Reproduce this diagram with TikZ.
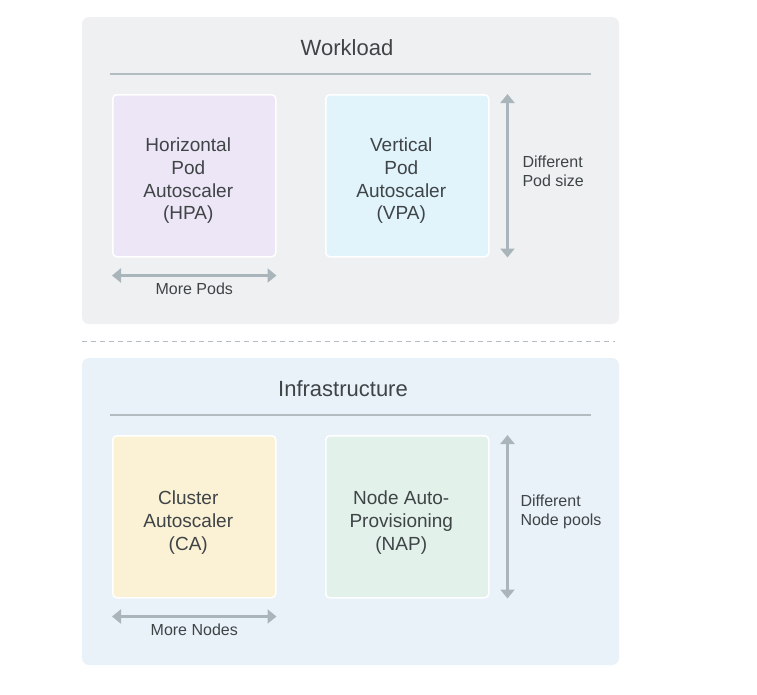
\documentclass[tikz,border=0pt]{standalone}
\usepackage{fontspec}
\setmainfont{Liberation Sans}
\usetikzlibrary{arrows.meta,positioning}

\definecolor{txtgray}{HTML}{3F4447}
\definecolor{rulegray}{HTML}{B3BCC1}
\definecolor{arrowgray}{HTML}{AAB5BB}
\definecolor{workbg}{HTML}{EFF0F2}
\definecolor{infrabg}{HTML}{EAF2F9}
\definecolor{hpafill}{HTML}{EDE6F6}
\definecolor{vpafill}{HTML}{E1F4FC}
\definecolor{cafill}{HTML}{FBF1D4}
\definecolor{napfill}{HTML}{E2F1EA}

\begin{document}
\begin{tikzpicture}[x=1pt,y=-1pt,
    panel/.style={rounded corners=7pt},
    title/.style={font=\fontsize{22}{26}\selectfont, text=txtgray},
    scaler/.style={draw=white, line width=1.5pt, rounded corners=4pt,
        minimum width=163pt, minimum height=162pt, anchor=north west},
    boxtext/.style={align=center, font=\fontsize{19}{22.7}\selectfont, text=txtgray},
    sizearrow/.style={draw=arrowgray, line width=2.5pt,
        {Triangle[width=14pt,length=9pt]}-{Triangle[width=14pt,length=9pt]}},
    note/.style={font=\fontsize{16}{19}\selectfont, text=txtgray, align=left}]
    \useasboundingbox (0,0) rectangle (757,694);

    % Workload panel
    \fill[workbg, panel] (82,17) rectangle (619,324);
    \node[title] (workload) at (347,48) {Workload};
    \draw[rulegray, line width=1.2pt] (110,74) -- (591,74);
    \node[scaler, fill=hpafill] (hpa) at (112,94) {};
    \node[boxtext] (hpatext) at ([xshift=-6pt,yshift=-5pt]hpa.center)
        {Horizontal\\Pod\\Autoscaler\\(HPA)};
    \node[scaler, fill=vpafill] (vpa) at (325,94) {};
    \node[boxtext] (vpatext) at ([xshift=-6pt,yshift=-5pt]vpa.center)
        {Vertical\\Pod\\Autoscaler\\(VPA)};
    \draw[sizearrow] ([yshift=-18pt]hpa.south west) -- ([yshift=-18pt]hpa.south east)
        node[note, midway, below=3pt] (morepods) {More Pods};
    \draw[sizearrow] ([xshift=18pt]vpa.north east) -- ([xshift=18pt]vpa.south east);
    \node[note, anchor=west] (podsize) at (519,171) {Different\\Pod size};

    % separator
    \draw[rulegray, line width=1pt, dash pattern=on 5pt off 4pt] (82,341) -- (615,341);

    % Infrastructure panel
    \fill[infrabg, panel] (82,358) rectangle (619,665);
    \node[title] (infra) at (343,389) {Infrastructure};
    \draw[rulegray, line width=1.2pt] (110,415) -- (591,415);
    \node[scaler, fill=cafill] (ca) at (112,435) {};
    \node[boxtext] (catext) at ([xshift=-6pt,yshift=-6pt]ca.center)
        {Cluster\\Autoscaler\\(CA)};
    \node[scaler, fill=napfill] (nap) at (325,435) {};
    \node[boxtext] (naptext) at ([xshift=-6pt,yshift=-6pt]nap.center)
        {Node Auto-\\Provisioning\\(NAP)};
    \draw[sizearrow] ([yshift=-18pt]ca.south west) -- ([yshift=-18pt]ca.south east)
        node[note, midway, below=3pt] (morenodes) {More Nodes};
    \draw[sizearrow] ([xshift=18pt]nap.north east) -- ([xshift=18pt]nap.south east);
    \node[note, anchor=west] (nodepools) at (517,512) {Different\\Node pools};
\end{tikzpicture}
\end{document}
